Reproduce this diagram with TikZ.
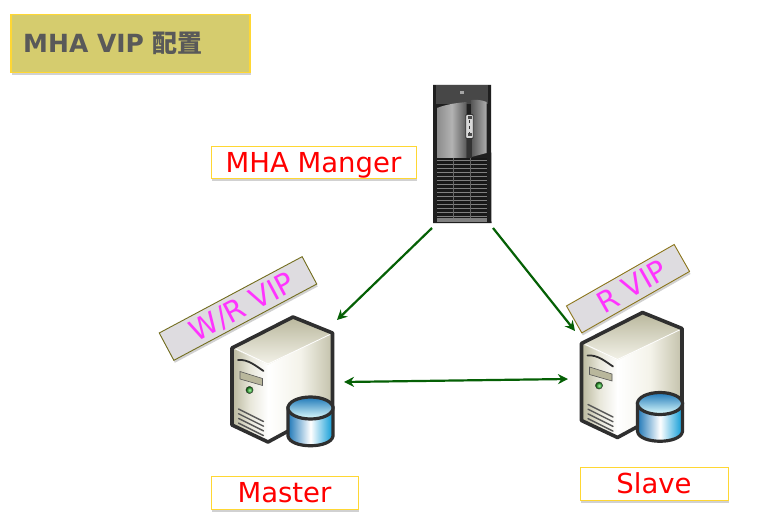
\documentclass[tikz,border=0pt]{standalone}
\usepackage{fontspec}
\setmainfont{DejaVu Sans}
\newfontfamily\cjkfont{Noto Sans CJK SC}
\usetikzlibrary{shadows,arrows.meta}
\definecolor{bannerfill}{HTML}{D5CC6E}
\definecolor{goldline}{HTML}{FFD733}
\definecolor{inkgrey}{HTML}{595959}
\definecolor{tagfill}{HTML}{DEDCE0}
\definecolor{linkgreen}{HTML}{056005}
\definecolor{magtext}{HTML}{FF33FF}
\definecolor{srvline}{HTML}{2F2F2F}
\definecolor{khakidark}{HTML}{B9B79C}
\definecolor{khakilight}{HTML}{F4F3EA}
\definecolor{dbblue}{HTML}{1F78B8}
\definecolor{dbcyan}{HTML}{0A9AD6}
\tikzset{
  softshadow/.style={drop shadow={shadow xshift=1pt,shadow yshift=-2.5pt,opacity=.18,fill=black}},
  titlebox/.style={draw=goldline,line width=1.1pt,fill=bannerfill,softshadow,minimum width=239pt,minimum height=58pt,inner sep=0pt},
  namebox/.style={draw=goldline,line width=1pt,fill=white,softshadow,text=red,font=\fontsize{27.5}{30}\selectfont,inner sep=0pt,text height=20pt,text depth=0pt},
  vipbox/.style={fill=tagfill,line width=.9pt,softshadow,text=magtext,font=\fontsize{29}{30}\selectfont,minimum height=31pt,inner sep=0pt,text height=21pt,text depth=0pt},
  link/.style={draw=linkgreen,line width=2.2pt,-{Stealth[length=10pt,width=10pt]}},
  linkboth/.style={draw=linkgreen,line width=2.2pt,{Stealth[length=10pt,width=10pt]}-{Stealth[length=10pt,width=10pt]}},
  dbserver/.pic={
    % top face
    \shade[left color=khakidark,right color=khakilight,shading angle=0]
      (232,348) -- (293,317) -- (332.5,333) -- (268,365) -- cycle;
    % front face
    \shade[left color=khakidark,right color=white,middle color=khakilight!80!khakidark]
      (232,348) -- (268,365) -- (268,442) -- (232,425) -- cycle;
    % side face
    \shade[left color=white,right color=khakidark!85,middle color=khakilight]
      (268,365) -- (332.5,333) -- (332.5,407) -- (268,442) -- cycle;
    \draw[white,line width=.8pt] (236,349) -- (268,364) -- (331,334);
    \draw[srvline,line width=3.6pt,line join=round]
      (232,348) -- (293,317) -- (332.5,333) -- (332.5,407) -- (268,442) -- (232,425) -- cycle;
    % slot, bay, lamp, vents
    \draw[srvline,line width=1.8pt,line cap=round] (238,360) .. controls (248,359) and (256,366) .. (263.5,371);
    \fill[khakidark,draw=gray!70!black,line width=.6pt] (240,371.5) -- (262.5,378.5) -- (262.5,385.5) -- (240,379) -- cycle;
    \shade[inner color=green!35!white,outer color=green!30!black,draw=gray!40!black] (249.5,390) circle (3.6pt);
    \foreach \d in {0,4.7,9.4,14.1}
      \draw[srvline!80,line width=1.4pt,line cap=round] (238.5,409+\d) -- (263.5,421.5+\d);
    % database cylinder
    \shade[left color=dbblue,right color=dbcyan,middle color=white,draw=srvline,line width=3.2pt]
      (288,408) -- (288,436) .. controls (290,449) and (331,449) .. (333,436) -- (333,408) -- cycle;
    \shade[top color=dbblue,bottom color=cyan!12!white,draw=srvline,line width=3.2pt]
      (310.5,408) ellipse [x radius=22.5pt,y radius=11pt];
  },
  towerbox/.pic={
    \fill[black!88] (433,85) -- (491,85) -- (491.5,223) -- (433,223) -- cycle;
    \fill[black!72] (436,85) rectangle (488,104);
    \fill[gray!70] (460,91) rectangle (464,94);
    % doors
    \shade[left color=black!45,right color=black!65,middle color=black!30]
      (437,108) .. controls (447,104) and (457,103) .. (466.5,102) -- (466.5,158) -- (437,158) -- cycle;
    \shade[left color=black!65,right color=black!32]
      (471.5,100) .. controls (477,99.5) and (482,100) .. (486.5,102) -- (486.5,153) -- (471.5,157) -- cycle;
    % latch
    \fill[black!80] (467,138) rectangle (472,158);
    \fill[black!15,draw=black!80,line width=.8pt,rounded corners=1pt] (465.8,114.5) rectangle (473.3,138.5);
    \fill[black!70] (467.5,116) rectangle (471.5,119);
    \fill[black!70] (467.5,133.5) rectangle (471.5,136.5);
    \draw[black!80,line width=.8pt,dashed] (469.5,120) -- (469.5,133);
    % grille
    \fill[black!90] (437,158) rectangle (487,218);
    \foreach \s in {0,1,...,14}
      \fill[black!50] (437,160+4*\s) rectangle (487,161+4*\s);
    \foreach \gx in {453.5,470.5}
      \draw[black!60,line width=.4pt] (\gx,158) -- (\gx,218);
    \fill[black!50] (437,218) rectangle (487,222);
  }
}
\begin{document}
\begin{tikzpicture}[x=1pt,y=-1pt]
\useasboundingbox (0,0) rectangle (766,532);
\fill[white] (0,0) rectangle (766,532);

\node[titlebox] (title) at (130.5,43.5) {};
\node[anchor=west,text=inkgrey,font=\fontsize{25}{28}\selectfont\bfseries,inner sep=0pt] (titletext) at (23,43.5) {MHA VIP {\cjkfont\fontsize{25}{28}\selectfont\bfseries 配置}};

\pic at (0,0) {towerbox};
\pic at (0,0) {dbserver};
\pic at (349.5,-4.5) {dbserver};

\node[namebox,minimum width=205pt,minimum height=32pt] (manager) at (313.5,163) {MHA Manger};
\node[namebox,minimum width=147pt,minimum height=33pt] (master) at (284.5,492.5) {Master};
\node[namebox,minimum width=148pt,minimum height=33pt] (slave) at (654,483.5) {Slave};

\node[vipbox,draw=olive!75!black,rotate=28.1,minimum width=162pt] (wrvip) at (238,308.5) {\hspace*{9pt}W/R VIP};
\node[vipbox,draw=goldline!55!black,rotate=29.7,minimum width=124pt] (rvip) at (628,288.7) {\hspace*{9pt}R VIP};

\coordinate (mgrleft) at (432,228);
\coordinate (mgrright) at (493,228);
\coordinate (masterin) at (337,320);
\coordinate (slavein) at (575,331);
\coordinate (masterside) at (344,382);
\coordinate (slaveside) at (568,379);

\draw[link] (mgrleft) -- (masterin);
\draw[link] (mgrright) -- (slavein);
\draw[linkboth] (masterside) -- (slaveside);
\end{tikzpicture}
\end{document}
